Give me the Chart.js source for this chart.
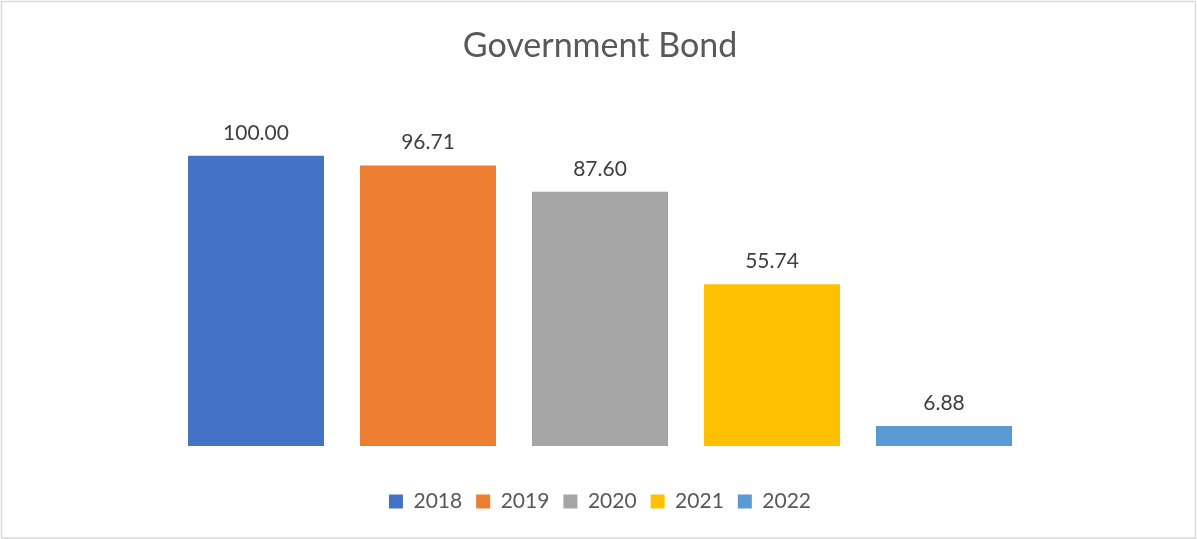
<!DOCTYPE html>
<html>
<head>
<meta charset="utf-8">
<script src="https://cdn.jsdelivr.net/npm/chart.js@4/dist/chart.umd.min.js"></script>
<style>
  html, body { margin: 0; padding: 0; background: #fff; }
  #wrap { position: relative; width: 1197px; height: 539px; }
</style>
</head>
<body>
<div id="wrap"><canvas id="c" width="1197" height="539"></canvas></div>
<script>
const chartTitle = 'Government Bond';
const categories = ['Government Bond'];
const seriesNames = ['2018', '2019', '2020', '2021', '2022'];
const seriesValues = [100.00, 96.71, 87.60, 55.74, 6.88];
const seriesColors = ['#4472C4', '#ED7D31', '#A5A5A5', '#FFC000', '#5B9BD5'];

const FONT = 'Lato, "Open Sans", sans-serif';

const datasets = seriesNames.map((name, i) => ({
  label: name,
  data: [seriesValues[i]],
  backgroundColor: seriesColors[i],
  borderWidth: 0,
  categoryPercentage: 1.0,
  barPercentage: 0.7907
}));

const borderPlugin = {
  id: 'outerBorder',
  beforeDraw(chart) {
    const ctx = chart.ctx;
    ctx.save();
    ctx.fillStyle = '#ffffff';
    ctx.fillRect(0, 0, chart.width, chart.height);
    ctx.strokeStyle = '#D9D9D9';
    ctx.lineWidth = 1.5;
    ctx.strokeRect(1.5, 1.5, chart.width - 3, chart.height - 2.5);
    ctx.restore();
  }
};

const labelPlugin = {
  id: 'valueLabels',
  afterDatasetsDraw(chart) {
    const ctx = chart.ctx;
    ctx.save();
    ctx.font = '21px ' + FONT;
    ctx.fillStyle = '#404040';
    ctx.textAlign = 'center';
    ctx.textBaseline = 'alphabetic';
    chart.data.datasets.forEach((ds, i) => {
      const meta = chart.getDatasetMeta(i);
      meta.data.forEach((el, j) => {
        const v = ds.data[j];
        ctx.fillText(v.toFixed(2), el.x, el.y - 16);
      });
    });
    ctx.restore();
  }
};

new Chart(document.getElementById('c'), {
  type: 'bar',
  data: { labels: categories, datasets },
  options: {
    responsive: false,
    animation: false,
    devicePixelRatio: 1,
    layout: { padding: { left: 170, right: 167, top: 0, bottom: 17 } },
    plugins: {
      title: {
        display: true,
        text: chartTitle,
        color: '#595959',
        font: { family: FONT, size: 34, weight: 'normal' },
        padding: { top: 26, bottom: 31 }
      },
      legend: {
        display: true,
        position: 'bottom',
        labels: {
          color: '#595959',
          font: { family: FONT, size: 21 },
          boxWidth: 14,
          boxHeight: 14,
          padding: 14
        }
      },
      tooltip: { enabled: false }
    },
    scales: {
      x: {
        display: true,
        grid: { display: false },
        border: { display: false },
        ticks: { display: false },
        afterFit(scale) { scale.height = 31; }
      },
      y: {
        display: false,
        min: 0,
        max: 120
      }
    }
  },
  plugins: [borderPlugin, labelPlugin]
});
</script>
</body>
</html>
